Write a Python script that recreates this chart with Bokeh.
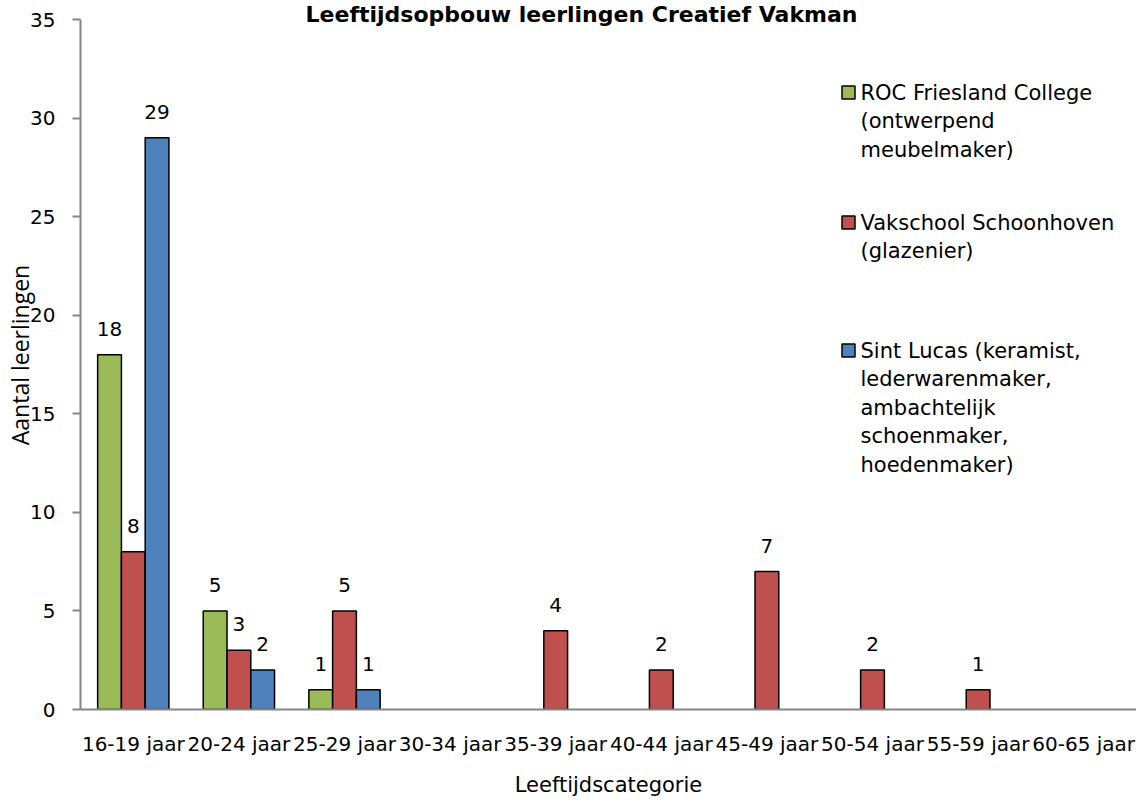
from bokeh.plotting import figure
from bokeh.models import Label, FixedTicker, Range1d, ColumnDataSource
from bokeh.core.properties import value
from bokeh.embed import file_html
from bokeh.resources import INLINE

# ---------------- data ----------------
categories = ["16-19 jaar", "20-24 jaar", "25-29 jaar", "30-34 jaar", "35-39 jaar",
              "40-44 jaar", "45-49 jaar", "50-54 jaar", "55-59 jaar", "60-65 jaar"]
roc_friesland = [18, 5, 1, 0, 0, 0, 0, 0, 0, 0]
vakschool = [8, 3, 5, 0, 4, 2, 7, 2, 1, 0]
sint_lucas = [29, 2, 1, 0, 0, 0, 0, 0, 0, 0]
series_labels = [
    ["ROC Friesland College", "(ontwerpend", "meubelmaker)"],
    ["Vakschool Schoonhoven", "(glazenier)"],
    ["Sint Lucas (keramist,", "lederwarenmaker,", "ambachtelijk", "schoenmaker,", "hoedenmaker)"],
]
colors = ["#9BBB59", "#C0504D", "#4F81BD"]
y_ticks = [0, 5, 10, 15, 20, 25, 30, 35]
title_text = "Leeftijdsopbouw leerlingen Creatief Vakman"
x_title = "Leeftijdscategorie"
y_title = "Aantal leerlingen"

# ---------------- layout ----------------
W, H = 1136, 799
BL, BT, BR, BB = 80, 0, 0, 90
FW, FH = W - BL - BR, H - BT - BB          # frame: 1056 x 709
AXIS_TOP_PX = 19                            # pixel row of the top of the value axis
YMAX = 35
Y_END = YMAX * FH / (FH - AXIS_TOP_PX)      # extra room above the axis for the title
NCAT = len(categories)

FONT = "DejaVu Sans"


def dx(px):
    return (px - BL) * NCAT / FW


def dy(py):
    return (FH - py) * Y_END / FH


p = figure(width=W, height=H, x_range=Range1d(0, NCAT), y_range=Range1d(0, Y_END),
           output_backend="svg", toolbar_location=None,
           min_border_left=BL, min_border_right=BR, min_border_top=BT, min_border_bottom=BB)
p.outline_line_color = None
p.xgrid.visible = False
p.ygrid.visible = False
p.background_fill_color = "white"
p.border_fill_color = "white"

# axes
AX = "#868686"
p.yaxis.ticker = FixedTicker(ticks=y_ticks)
p.yaxis.bounds = (0, YMAX)
p.yaxis.axis_line_color = AX
p.yaxis.axis_line_width = 2
p.yaxis.major_tick_line_color = AX
p.yaxis.major_tick_line_width = 2
p.yaxis.major_tick_in = 0
p.yaxis.major_tick_out = 8
p.yaxis.minor_tick_line_color = None
p.yaxis.major_label_standoff = 17
p.yaxis.major_label_text_font = FONT
p.yaxis.major_label_text_font_size = "20px"
p.yaxis.major_label_text_color = "black"
p.yaxis.axis_label = y_title
p.yaxis.axis_label_standoff = -9
p.yaxis.axis_label_text_font = "Open Sans"
p.yaxis.axis_label_text_font_size = "23px"
p.yaxis.axis_label_text_font_style = "normal"
p.yaxis.axis_label_text_color = "black"

p.xaxis.ticker = FixedTicker(ticks=[i + 0.5 for i in range(NCAT)])
p.xaxis.major_label_overrides = {i + 0.5: c for i, c in enumerate(categories)}
p.xaxis.axis_line_color = AX
p.xaxis.axis_line_width = 2
p.xaxis.major_tick_line_color = None
p.xaxis.minor_tick_line_color = None
p.xaxis.major_tick_in = 0
p.xaxis.major_tick_out = 0
p.xaxis.major_label_standoff = 22
p.xaxis.major_label_text_font = FONT
p.xaxis.major_label_text_font_size = "20px"
p.xaxis.major_label_text_color = "black"
p.xaxis.axis_label = x_title
p.xaxis.axis_label_standoff = 14
p.xaxis.axis_label_text_font = FONT
p.xaxis.axis_label_text_font_size = "21px"
p.xaxis.axis_label_text_font_style = "normal"
p.xaxis.axis_label_text_color = "black"

# bars
series = [roc_friesland, vakschool, sint_lucas]
BW = 0.225
offsets = [-BW, 0.0, BW]
for vals, col, off in zip(series, colors, offsets):
    xs = [i + 0.5 + off for i, v in enumerate(vals) if v > 0]
    ys = [v for v in vals if v > 0]
    src = ColumnDataSource(dict(x=xs, top=ys, lab=[str(v) for v in ys]))
    p.vbar(x="x", top="top", bottom=0, width=BW, source=src,
           fill_color=col, line_color="black", line_width=1.5)
    p.text(x="x", y="top", text="lab", source=src, y_offset=-26,
           text_align="center", text_baseline="alphabetic",
           text_font=value(FONT), text_font_size="20px", text_color="black")

# legend (manual, multi-line)
legend_tops = [92, 222, 350]
LINE_H = 28.5
for names, col, ty in zip(series_labels, colors, legend_tops):
    p.scatter(x=[dx(848)], y=[dy(ty)], marker="square", size=13,
              fill_color=col, line_color="black", line_width=1.5)
    for k, line in enumerate(names):
        p.add_layout(Label(x=dx(860), y=dy(ty + k * LINE_H), text=line,
                           text_align="left", text_baseline="middle",
                           text_font=FONT, text_font_size="21px", text_color="black"))

# chart title
p.add_layout(Label(x=dx(581), y=dy(1), text=title_text,
                   text_align="center", text_baseline="top",
                   text_font=FONT, text_font_size="22px", text_font_style="bold",
                   text_color="black"))

open("out.html", "w").write(file_html(p, INLINE))
